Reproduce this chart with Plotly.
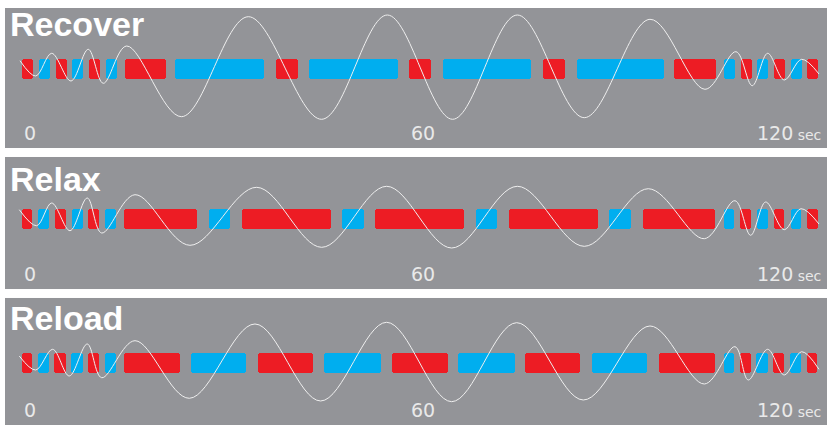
import plotly.graph_objects as go
from plotly.subplots import make_subplots

### Data (seconds)
panel_titles = ["Recover", "Relax", "Reload"]

recover_colors = ["r", "b", "r", "b", "r", "b", "r", "b", "r", "b", "r", "b", "r", "b", "r",
                  "b", "r", "b", "r", "b", "r"]
recover_start = [0.0, 2.56, 5.08, 7.58, 10.09, 12.65, 15.51, 23.09, 38.21, 43.22, 58.28, 63.45,
                 78.51, 83.54, 98.24, 105.77, 108.28, 110.74, 113.3, 115.8, 118.3]
recover_end = [1.7, 4.22, 6.73, 9.23, 11.75, 14.26, 21.64, 36.49, 41.52, 56.58, 61.64, 76.61,
               81.78, 96.73, 104.47, 107.38, 109.89, 112.39, 114.9, 117.4, 119.9]

relax_colors = recover_colors
relax_start = [0.0, 2.45, 4.97, 7.48, 9.98, 12.55, 15.4, 28.1, 33.1, 48.2, 53.2, 68.4,
               73.4, 88.4, 93.5, 105.8, 108.1, 110.7, 113.2, 115.8, 118.3]
relax_end = [1.55, 4.11, 6.63, 9.14, 11.64, 14.2, 26.3, 31.4, 46.5, 51.5, 66.6, 71.6,
             86.7, 91.7, 104.4, 107.3, 109.8, 112.3, 114.8, 117.3, 119.9]

reload_colors = recover_colors
reload_start = [0.0, 2.36, 4.86, 7.38, 9.89, 12.5, 15.4, 25.5, 35.5, 45.5, 55.7, 65.7,
                75.8, 85.8, 95.9, 105.7, 108.1, 110.6, 113.1, 115.7, 118.2]
reload_end = [1.55, 4.11, 6.63, 9.14, 11.64, 14.2, 23.8, 33.8, 43.9, 54.0, 64.1, 74.2,
              84.1, 94.2, 104.4, 107.3, 109.8, 112.3, 114.8, 117.3, 119.8]

# breathing wave: turning points (time, height above bar centre)
recover_wave_t = [-0.3, 2.06, 4.47, 7.38, 9.98, 12.24, 15.77, 24.05, 34.08, 45.14, 55.02, 64.86,
                  74.59, 84.68, 94.58, 102.86, 107.53, 109.98, 112.3, 114.8, 117.42, 120.03]
recover_wave_v = [8.6, -6.7, 16, -11.7, 20, -14, 23.3, -47.4, 52.6, -50, 54.3, -50,
                  54.3, -48.4, 50, -20, 17.6, -16.4, 16, -10.7, 10, -4.7]

relax_wave_t = [-0.41, 2.21, 4.47, 7.23, 9.83, 12.0, 17.02, 25.3, 35.35, 45.14, 54.92, 64.71,
                74.59, 84.68, 94.32, 102.76, 107.38, 109.74, 112.0, 114.8, 117.32, 120.03]
relax_wave_v = [9, -7, 15.7, -12, 20.7, -14.3, 24, -26.6, 31.4, -28.6, 32.4, -29.3,
                32.4, -27.6, 30, -20, 18, -16.6, 16.7, -11, 10, -5.3]

reload_wave_t = [-0.41, 2.06, 4.62, 7.12, 9.83, 12.0, 17.02, 25.2, 35.09, 44.98, 54.92, 64.71,
                 74.5, 84.53, 94.58, 102.76, 107.38, 109.38, 112.3, 114.8, 117.42, 120.03]
reload_wave_v = [7, -7, 13.7, -13, 19, -14.7, 22.3, -35.3, 39, -38, 40.7, -38.7,
                 40.3, -37, 37, -21, 16.3, -17, 13.7, -12, 11.3, -6.3]

tick_vals = [0, 60, 120]
tick_text = ["0", "60", "120"]

### Styling
RED = "#ED1C24"
BLUE = "#00AEEF"
BG = "#939498"
color_map = {"r": RED, "b": BLUE}

panels = [
    (recover_colors, recover_start, recover_end, recover_wave_t, recover_wave_v),
    (relax_colors, relax_start, relax_end, relax_wave_t, relax_wave_v),
    (reload_colors, reload_start, reload_end, reload_wave_t, reload_wave_v),
]

fig = make_subplots(rows=3, cols=1)

for i, (cols, starts, ends, wt, wv) in enumerate(panels):
    row = i + 1
    fig.add_trace(
        go.Bar(
            y=[0] * len(starts),
            x=[e - s for s, e in zip(starts, ends)],
            base=starts,
            orientation="h",
            width=20,
            marker=dict(color=[color_map[c] for c in cols], cornerradius=3, line_width=0),
            hoverinfo="skip",
            showlegend=False,
        ),
        row=row, col=1,
    )
    fig.add_trace(
        go.Scatter(
            x=wt, y=wv, mode="lines",
            line=dict(color="#efefef", width=1.0, shape="spline", smoothing=1.0),
            hoverinfo="skip", showlegend=False,
        ),
        row=row, col=1,
    )

# panel geometry
domains = [[0.6643, 1.0], [0.3261, 0.6427], [0.0, 0.3046]]
yranges = [[-78.7, 61.3], [-70.3, 61.7], [-62, 65]]
title_shift = [5, -1, 1]

annotations = []
for i in range(3):
    suffix = "" if i == 0 else str(i + 1)
    fig.layout["yaxis" + suffix].update(
        domain=domains[i], range=yranges[i], visible=False, fixedrange=True
    )
    fig.layout["xaxis" + suffix].update(
        range=[-2.56, 121.24], visible=False, fixedrange=True
    )
    annotations.append(dict(
        text="<b>%s</b>" % panel_titles[i], xref="paper", x=0, xanchor="left", xshift=3,
        yref="y%s domain" % suffix, y=1, yanchor="top", yshift=title_shift[i],
        showarrow=False, font=dict(family="Liberation Sans, Arial", size=34, color="white"),
    ))
    for v, t in zip(tick_vals, tick_text):
        if v == 0:
            txt, anchor, xs = t, "left", 0
        elif v == tick_vals[-1]:
            txt, anchor, xs = t + "<span style='font-size:14px'> sec</span>", "right", 4
        else:
            txt, anchor, xs = t, "center", 3
        annotations.append(dict(
            text=txt, xref="x%s" % suffix, x=v, xanchor=anchor, xshift=xs,
            yref="y%s domain" % suffix, y=0, yanchor="middle", yshift=15,
            showarrow=False, font=dict(family="DejaVu Sans", size=19, color="#e9e9e9"),
        ))

fig.update_layout(
    width=828, height=425,
    margin=dict(l=5, r=1, t=8, b=0),
    paper_bgcolor="white",
    plot_bgcolor=BG,
    annotations=annotations,
    bargap=0,
)

# drop the default page margin so the figure sits at the window's corner
fig.write_html(
    "out.html",
    config={"displayModeBar": False},
    post_script="document.body.style.margin = '0';",
)
